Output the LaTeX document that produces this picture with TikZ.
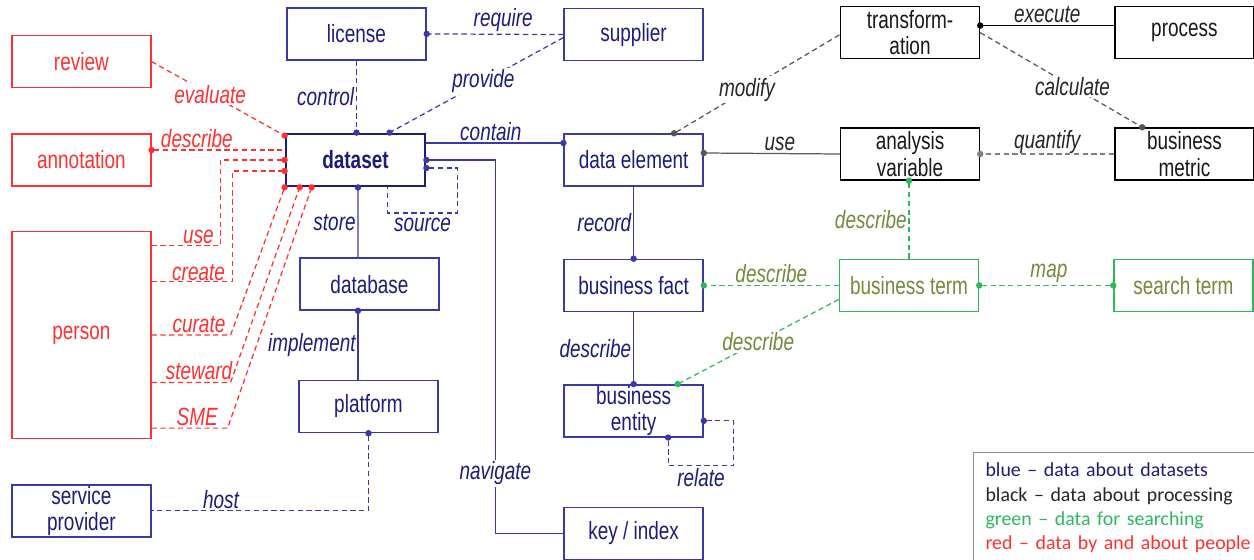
\documentclass[tikz,border=0pt]{standalone}
\usepackage{fontspec}
\setmainfont{Liberation Sans}[FakeStretch=0.76]
\newfontfamily\legendfont{Carlito}
\usepackage{tikz}
\usetikzlibrary{arrows.meta,positioning,calc}
\definecolor{MDblue}{HTML}{3A3AA6}
\definecolor{MDnavy}{HTML}{1C1C7E}
\definecolor{MDred}{HTML}{FF3030}
\definecolor{MDgreen}{HTML}{2DB85C}
\definecolor{MDolive}{HTML}{748A3A}
\definecolor{MDgrey}{HTML}{555555}
\newcommand{\mdsize}{\fontsize{14.2}{15}\selectfont}
\tikzset{
  md/box/.style={draw, line width=0.8pt, minimum width=27.8mm, minimum height=10.4mm, inner xsep=1pt, inner ysep=0pt, align=center, font=\mdsize},
  md/bluebox/.style={md/box, draw=MDblue, text=MDnavy},
  md/dataset/.style={md/box, draw=MDnavy, line width=1.6pt, text=MDnavy, font=\mdsize\bfseries},
  md/redbox/.style={md/box, draw=MDred, text=MDred},
  md/greenbox/.style={md/box, draw=MDgreen, text=MDolive},
  md/blackbox/.style={md/box, draw=black, text=black!90},
  md/label/.style={font=\mdsize\itshape, inner sep=1pt},
  md/redlabel/.style={md/label, text=MDred},
  md/bluelabel/.style={md/label, text=MDnavy},
  md/greenlabel/.style={md/label, text=MDolive},
  md/blacklabel/.style={md/label, text=black!85},
  md/line/.style={line width=0.7pt},
  md/dash/.style={md/line, dash pattern=on 3pt off 2pt},
  md/dotend/.style={-{Circle[length=3.6pt]}, shorten >=-1.8pt},
  md/dotstart/.style={{Circle[length=3.6pt]}-, shorten <=-1.8pt},
  md/dotboth/.style={{Circle[length=3.6pt]}-{Circle[length=3.6pt]}, shorten <=-1.8pt, shorten >=-1.8pt},
  md/legend/.style={draw=black!45, line width=0.6pt, anchor=north west, align=left, text width=56mm, inner xsep=2.4mm, inner ysep=2.1mm, font=\legendfont\fontsize{11.3}{13.8}\selectfont}
}

\begin{document}
\begin{tikzpicture}[x=0.2mm, y=-0.2mm, node distance=14.4mm and 27.4mm]
  \useasboundingbox (0,0) rectangle (1254,559);
  % datasets
  \node[md/dataset] (dataset) at (355.5,160) {dataset};
  \node[md/bluebox, above=of dataset, xshift=0.2mm] (license) {license};
  \node[md/bluebox, below=14mm of dataset, xshift=2.8mm] (database) {database};
  \node[md/bluebox, below=13.8mm of database, xshift=-0.2mm] (platform) {platform};
  % people
  \node[md/redbox, left=26.6mm of dataset] (annotation) {annotation};
  \node[md/redbox, above=9mm of annotation] (review) {review};
  \node[md/redbox, below=8.8mm of annotation, minimum height=41.4mm] (person) {person};
  \node[md/bluebox, below=9mm of person] (servprov) {service\\provider};
  % data elements
  \node[md/bluebox, right=of dataset] (dataelem) {data element};
  \node[md/bluebox, above=of dataelem] (supplier) {supplier};
  \node[md/bluebox, below=of dataelem] (bfact) {business fact};
  \node[md/bluebox, below=of bfact] (bentity) {business\\entity};
  \node[md/bluebox, below=13.8mm of bentity] (keyindex) {key / index};
  % processing and searching
  \node[md/blackbox, right=27.2mm of dataelem, yshift=1.2mm] (anvar) {analysis\\variable};
  \node[md/blackbox, above=13.6mm of anvar] (transf) {transform-\\ation};
  \node[md/blackbox, right=26.8mm of anvar] (bmetric) {business\\metric};
  \node[md/blackbox, above=13.6mm of bmetric] (process) {process};
  \node[md/greenbox, right=27mm of bfact] (bterm) {business term};
  \node[md/greenbox, right=26.8mm of bterm] (sterm) {search term};
  \node[md/legend] (legend) at (973,452) {{\color{MDnavy}blue – data about datasets}\\
    {\color{black!85}black – data about processing}\\
    {\color{MDgreen}green – data for searching}\\
    {\color{MDred}red – data by and about people}\\ ~};

  % red links
  \draw[md/dash, MDred, md/dotend] (review.east) -- node[md/redlabel, fill=white, pos=0.44] {evaluate} ($(dataset.north west)+(0,3)$);
  \draw[md/dash, MDred, md/dotstart] ($(annotation.east)+(0,-10)$) -- node[md/redlabel, above, pos=0.34] {describe} ($(dataset.west)+(0,-10)$);
  \draw[md/dash, MDred, md/dotend] ($(person.north east)+(0,15)$) -- node[md/redlabel, above, pos=0.68] {use} ++(69,0) |- (dataset.west);
  \draw[md/dash, MDred, md/dotend] ($(person.north east)+(0,51)$) -- node[md/redlabel, above, pos=0.58, inner sep=0pt] {create} ++(81,0) |- ($(dataset.west)+(0,11)$);
  \draw[md/dash, MDred, md/dotend] (person.east) -- node[md/redlabel, above, pos=0.6] {curate} ++(79,0) -- (dataset.south west);
  \draw[md/dash, MDred, md/dotend] ($(person.east)+(0,47.5)$) -- node[md/redlabel, above, pos=0.6] {steward} ++(79,0) -- ($(dataset.south west)+(15,0)$);
  \draw[md/dash, MDred, md/dotend] ($(person.south east)+(0,-11)$) -- node[md/redlabel, above, pos=0.6] {SME} ++(76,0) -- ($(dataset.south west)+(27,0)$);

  % blue links
  \draw[md/dash, MDblue, md/dotend] (license.south) -- node[md/bluelabel, left] {control} (license.south |- dataset.north);
  \draw[md/dash, MDblue, md/dotend] (supplier.west) -- node[md/bluelabel, above, pos=0.44] {require} (license.east);
  \draw[md/dash, MDblue, md/dotend] ($(supplier.west)+(0,3)$) -- node[md/bluelabel, fill=white, pos=0.46] {provide} ($(dataset.north west)+(105,0)$);
  \draw[md/line, MDblue, md/dotend] ($(dataset.east)+(0,-17)$) -- node[md/bluelabel, above, pos=0.47] {contain} ($(dataelem.west)+(0,-17)$);
  \draw[md/line, MDblue, md/dotstart] (dataset.east) -- ++(69,0) |- node[md/bluelabel, fill=white, pos=0.42] {navigate} (keyindex.west);
  \draw[md/dash, MDblue, md/dotstart] ($(dataset.east)+(0,8)$) -- ++(31,0) -- ++(0,45) -| node[md/bluelabel, below, pos=0.25, inner sep=2.5pt] {source} ($(dataset.south west)+(103,0)$);
  \draw[md/line, MDblue, md/dotstart] ($(dataset.south)+(2.5,0)$) -- node[md/bluelabel, left] {store} ($(database.north)+(-11.5,0)$);
  \draw[md/line, MDblue, md/dotstart] ($(database.south)+(-11.5,0)$) -- node[md/bluelabel, left] {implement} ($(platform.north)+(-10.5,0)$);
  \draw[md/dash, MDblue, md/dotstart] (platform.south) |- node[md/bluelabel, above, pos=0.84] {host} (servprov.east);
  \draw[md/line, MDblue, md/dotend] (dataelem.south) -- node[md/bluelabel, left] {record} (bfact.north);
  \draw[md/line, MDblue, md/dotend] (bfact.south) -- node[md/bluelabel, left] {describe} (bentity.north);
  \draw[md/dash, MDblue, md/dotboth] ($(bentity.east)+(0,10)$) -- ++(30,0) -- ++(0,45) -| node[md/bluelabel, below, pos=0.25] {relate} ($(bentity.south)+(34.5,0)$);

  % black links
  \draw[md/dash, MDgrey, md/dotstart] ($(dataelem.north)+(40.5,0)$) -- node[md/blacklabel, fill=white, pos=0.44] {modify} ($(transf.west)+(0,2)$);
  \draw[md/line, black, md/dotstart] ($(transf.east)+(0,-7)$) -- node[md/blacklabel, above] {execute} ($(process.west)+(0,-7)$);
  \draw[md/dash, MDgrey, md/dotend] (transf.east) -- node[md/blacklabel, fill=white, pos=0.57] {calculate} ($(bmetric.north west)+(28,0)$);
  \draw[md/line, black!65, md/dotstart] ($(dataelem.east)+(0,-7)$) -- node[md/blacklabel, above, pos=0.56] {use} (anvar.west);
  \draw[md/dash, black!50, md/dotend] (bmetric.west) -- node[md/blacklabel, above, inner sep=0pt] {quantify} (anvar.east);

  % green links
  \draw[md/dash, MDgreen, md/dotend] (bterm.north) -- node[md/greenlabel, left] {describe} (bterm.north |- anvar.south);
  \draw[md/dash, MDgreen, md/dotend] (bterm.west) -- node[md/greenlabel, above] {describe} (bfact.east);
  \draw[md/dash, MDgreen, md/dotend] ($(bterm.west)+(0,14)$) -- node[md/greenlabel, fill=white] {describe} ($(bentity.north)+(44,0)$);
  \draw[md/dash, MDgreen, md/dotboth] (bterm.east) -- node[md/greenlabel, above, pos=0.52] {map} (sterm.west);
\end{tikzpicture}
\end{document}
